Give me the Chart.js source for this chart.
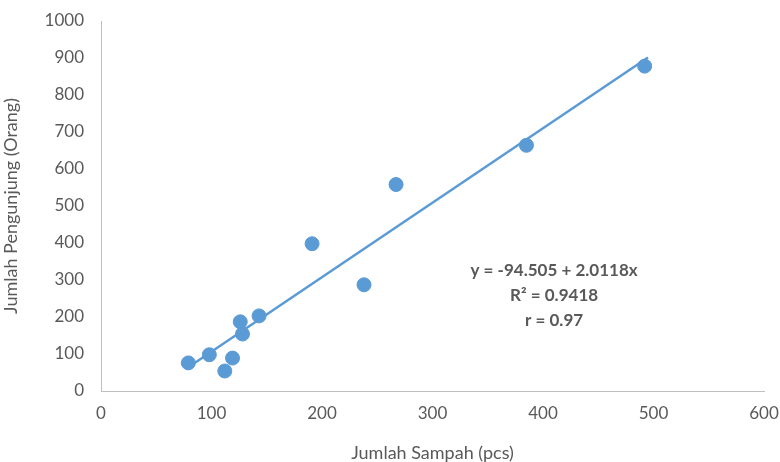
<!DOCTYPE html>
<html>
<head>
<meta charset="utf-8">
<script src="https://cdn.jsdelivr.net/npm/chart.js@4/dist/chart.umd.min.js"></script>
<style>
  html, body { margin: 0; padding: 0; background: #fff; }
  #wrap { width: 780px; height: 462px; }
</style>
</head>
<body>
<div id="wrap"><canvas id="myChart"></canvas></div>
<script>
// data
const sampah = [79, 98, 112, 119, 126, 128, 143, 191, 238, 267, 385, 492];
const pengunjung = [76, 98, 54, 89, 187, 154, 203, 398, 287, 558, 664, 878];

// regression shown in the chart
const intercept = -94.505;
const slope = 2.0118;
const trendX = [79, 495];
const notes = ['y = -94.505 + 2.0118x', 'R² = 0.9418', 'r = 0.97'];

const xTicks = [0, 100, 200, 300, 400, 500, 600];
const yTicks = [0, 100, 200, 300, 400, 500, 600, 700, 800, 900, 1000];

const points = sampah.map((x, i) => ({ x: x, y: pengunjung[i] }));
const trend = trendX.map(x => ({ x: x, y: intercept + slope * x }));

const grey = '#595959';
const blue = '#5B9BD5';

const notePlugin = {
    id: 'notes',
    afterDatasetsDraw(chart) {
        const c = chart.ctx;
        const xs = chart.scales.x, ys = chart.scales.y;
        c.save();
        c.fillStyle = grey;
        c.font = 'bold 17px Lato';
        c.textAlign = 'center';
        c.textBaseline = 'middle';
        const cx = xs.getPixelForValue(410);
        let cy = ys.getPixelForValue(325);
        for (let t of notes) {
            c.fillText(t, cx, cy);
            cy += 25;
        }
        c.restore();
    }
};

var ctx = document.getElementById('myChart').getContext('2d');

var myChart = new Chart(ctx, { //eslint-disable-line
    type: 'scatter',
    data: {
        datasets: [
            {
                label: 'Data',
                data: points,
                backgroundColor: blue,
                borderColor: blue,
                pointRadius: 7,
                pointHoverRadius: 7
            },
            {
                label: 'Trend',
                data: trend,
                showLine: true,
                borderColor: blue,
                borderWidth: 2.5,
                pointRadius: 0,
                fill: false
            }
        ]
    },
    options: {
        responsive: true,
        maintainAspectRatio: false,
        animation: false,
        layout: { padding: { top: 0, right: 0, left: 0, bottom: -2 } },
        plugins: {
            legend: { display: false },
            tooltip: { enabled: false }
        },
        scales: {
            x: {
                type: 'linear',
                min: 0,
                max: 600,
                afterBuildTicks: s => { s.ticks = xTicks.map(v => ({ value: v })); },
                afterFit: s => { s.paddingRight = 16; s.paddingLeft = 0; },
                grid: { display: false, drawTicks: false },
                border: { display: true, color: '#BFBFBF', width: 1 },
                ticks: { color: grey, font: { family: 'Lato', size: 17 }, padding: 12, callback: v => String(v) },
                title: {
                    display: true,
                    text: 'Jumlah Sampah (pcs)',
                    color: grey,
                    font: { family: 'Lato', size: 18 },
                    padding: { top: 7, bottom: 0 }
                }
            },
            y: {
                min: 0,
                max: 1000,
                afterBuildTicks: s => { s.ticks = yTicks.map(v => ({ value: v })); },
                afterFit: s => { s.paddingTop = 21; s.paddingBottom = 0; },
                grid: { display: false, drawTicks: false },
                border: { display: true, color: '#BFBFBF', width: 1 },
                ticks: { color: grey, font: { family: 'Lato', size: 17 }, padding: 17, callback: v => String(v) },
                title: {
                    display: true,
                    text: 'Jumlah Pengunjung (Orang)',
                    color: grey,
                    font: { family: 'Lato', size: 18 },
                    padding: { top: 0, bottom: 6 }
                }
            }
        }
    },
    plugins: [notePlugin]
});
</script>
</body>
</html>
